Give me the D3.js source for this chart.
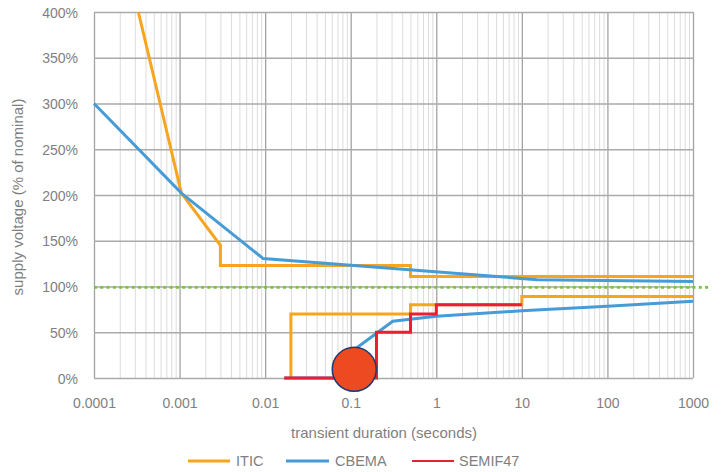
<!DOCTYPE html>
<html>
<head>
<meta charset="utf-8">
<script src="https://cdn.jsdelivr.net/npm/d3@7"></script>
<style>
  html, body { margin: 0; padding: 0; background: #ffffff; }
  svg { display: block; }
  text { font-family: "Liberation Sans", Arial, sans-serif; fill: #7F7F7F; }
</style>
</head>
<body>
<svg id="chart" width="725" height="472"></svg>
<script>
// ---------- data ----------
const xTicks = [0.0001, 0.001, 0.01, 0.1, 1, 10, 100, 1000];
const xTickLabels = ["0.0001", "0.001", "0.01", "0.1", "1", "10", "100", "1000"];
const yTicks = [0, 50, 100, 150, 200, 250, 300, 350, 400];
const yTickLabels = ["0%", "50%", "100%", "150%", "200%", "250%", "300%", "350%", "400%"];

const seriesNames = ["ITIC", "CBEMA", "SEMIF47"];

// ITIC upper and lower envelopes: [seconds, % nominal]
const iticUpper = [[0.00033, 400], [0.00105, 202], [0.003, 145], [0.003, 123], [0.5, 123], [0.5, 111], [1000, 111]];
const iticLower = [[0.02, 0], [0.02, 70], [0.5, 70], [0.5, 80], [10, 80], [10, 89], [1000, 89]];
// CBEMA upper and lower
const cbemaUpper = [[0.0001, 300], [0.00105, 202], [0.0095, 130.5], [15, 107.5], [1000, 105.5]];
const cbemaLower = [[0.0167, 0], [0.1, 0], [0.1, 28], [0.31, 62], [1, 67.5], [10, 73.5], [100, 78.5], [1000, 84]];
// SEMI F47
const semiF47 = [[0.0167, 0], [0.2, 0], [0.2, 50], [0.5, 50], [0.5, 70], [1, 70], [1, 80], [10, 80]];
// Nominal reference line
const nominalLevel = 99;
// Event marker
const eventPoint = [0.11, 9.5];

// ---------- layout ----------
const svg = d3.select("#chart");
const pLeft = 94, pRight = 693, pTop = 12, pBottom = 378;
const x = d3.scaleLog().domain([0.0001, 1000]).range([pLeft, pRight]);
const y = d3.scaleLinear().domain([0, 400]).range([pBottom, pTop]);

const colors = { ITIC: "#F7A51E", CBEMA: "#479CD6", SEMIF47: "#EC1E32" };

// minor vertical grid
const minorTicks = [];
for (let e = -4; e < 3; e++) {
  for (let m = 2; m <= 9; m++) minorTicks.push(m * Math.pow(10, e));
}
svg.append("g")
  .attr("transform", `translate(0,${pBottom})`)
  .call(d3.axisBottom(x).tickValues(minorTicks).tickSize(-(pBottom - pTop)).tickFormat(""))
  .call(g => g.select(".domain").remove())
  .call(g => g.selectAll("line").attr("stroke", "#DCDCDC").attr("stroke-width", 1));

// major vertical grid
svg.append("g")
  .attr("transform", `translate(0,${pBottom})`)
  .call(d3.axisBottom(x).tickValues(xTicks).tickSize(-(pBottom - pTop)).tickFormat(""))
  .call(g => g.select(".domain").remove())
  .call(g => g.selectAll("line").attr("stroke", "#A3A3A3").attr("stroke-width", 1.3));

// major horizontal grid
svg.append("g")
  .attr("transform", `translate(${pLeft},0)`)
  .call(d3.axisLeft(y).tickValues(yTicks).tickSize(-(pRight - pLeft)).tickFormat(""))
  .call(g => g.select(".domain").remove())
  .call(g => g.selectAll("line").attr("stroke", "#AAAAAA").attr("stroke-width", 1.3));

// tick labels
const xAxis = svg.append("g")
  .attr("transform", `translate(0,${pBottom})`)
  .call(d3.axisBottom(x).tickValues(xTicks).tickSize(0).tickPadding(0)
    .tickFormat((d, i) => xTickLabels[i]));
xAxis.select(".domain").remove();
xAxis.selectAll("text")
  .attr("y", 29.5).attr("dy", 0)
  .style("font-size", "14px").style("fill", "#7F7F7F")
  .style("font-family", "'Liberation Sans', Arial, sans-serif");

const yAxis = svg.append("g")
  .attr("transform", `translate(${pLeft},0)`)
  .call(d3.axisLeft(y).tickValues(yTicks).tickSize(0).tickPadding(16)
    .tickFormat((d, i) => yTickLabels[i]));
yAxis.select(".domain").remove();
yAxis.selectAll("text")
  .attr("dy", "0.36em")
  .style("font-size", "14px").style("fill", "#7F7F7F")
  .style("font-family", "'Liberation Sans', Arial, sans-serif");

// axis titles
svg.append("text")
  .attr("x", 384).attr("y", 438)
  .attr("text-anchor", "middle")
  .style("font-size", "15px")
  .text("transient duration (seconds)");

svg.append("text")
  .attr("transform", `translate(23,197) rotate(-90)`)
  .attr("text-anchor", "middle")
  .style("font-size", "15px")
  .text("supply voltage (% of nominal)");

// nominal dotted line
svg.append("line")
  .attr("x1", pLeft).attr("x2", 709)
  .attr("y1", y(nominalLevel)).attr("y2", y(nominalLevel))
  .attr("stroke", "#7CC143").attr("stroke-width", 2.7)
  .attr("stroke-dasharray", "3,3.3");

// series lines
const line = d3.line().x(d => x(d[0])).y(d => y(d[1]));
const drawSeries = (data, color, w) => {
  svg.append("path")
    .datum(data)
    .attr("d", line)
    .attr("fill", "none")
    .attr("stroke", color)
    .attr("stroke-width", w)
    .attr("stroke-linejoin", "miter");
};
drawSeries(iticUpper, colors.ITIC, 3);
drawSeries(iticLower, colors.ITIC, 3);
drawSeries(cbemaUpper, colors.CBEMA, 3);
drawSeries(cbemaLower, colors.CBEMA, 3);
drawSeries(semiF47, colors.SEMIF47, 3);

// event marker
svg.append("circle")
  .attr("cx", x(eventPoint[0])).attr("cy", y(eventPoint[1]))
  .attr("r", 22)
  .attr("fill", "#EE4A22")
  .attr("stroke", "#1E3A6E")
  .attr("stroke-width", 1.5);

// legend
const legendItems = [
  { name: seriesNames[0], color: colors.ITIC, x1: 188, x2: 230, tx: 236, w: 3 },
  { name: seriesNames[1], color: colors.CBEMA, x1: 286, x2: 329, tx: 335, w: 3 },
  { name: seriesNames[2], color: colors.SEMIF47, x1: 412, x2: 454, tx: 459, w: 2 }
];
const lg = svg.append("g");
legendItems.forEach(it => {
  lg.append("line")
    .attr("x1", it.x1).attr("x2", it.x2)
    .attr("y1", 461).attr("y2", 461)
    .attr("stroke", it.color).attr("stroke-width", it.w);
  lg.append("text")
    .attr("x", it.tx).attr("y", 466)
    .style("font-size", "14.5px")
    .text(it.name);
});
</script>
</body>
</html>
